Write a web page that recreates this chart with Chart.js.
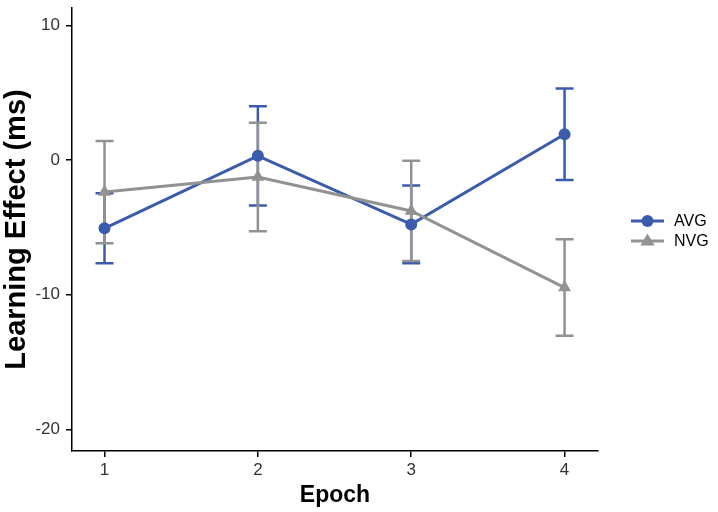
<!DOCTYPE html>
<html>
<head>
<meta charset="utf-8">
<script src="https://cdn.jsdelivr.net/npm/chart.js@4/dist/chart.umd.min.js"></script>
<style>
  body { margin: 0; background: #fff; }
  canvas { display: block; }
</style>
</head>
<body>
<canvas id="chart" width="718" height="512"></canvas>
<script>
const epochs = [1, 2, 3, 4];
const avgMean = [-5.06, 0.32, -4.77, 1.92];
const avgErr = [2.6, 3.68, 2.89, 3.4];
const nvgMean = [-2.37, -1.25, -3.77, -9.46];
const nvgErr = [3.8, 4.03, 3.72, 3.58];
const yTicks = [-20, -10, 0, 10];

const BLUE = '#3b5cad';
const GRAY = '#929292';
const FONT = "'Liberation Sans', Arial, sans-serif";

const toPoints = (means) => epochs.map((e, i) => ({ x: e, y: means[i] }));

// error bars drawn from the arrays through the chart scales
const errorBars = {
  id: 'errorBars',
  beforeDatasetsDraw(chart) {
    const { ctx, scales: { x, y } } = chart;
    const sets = [
      { means: avgMean, errs: avgErr, color: BLUE },
      { means: nvgMean, errs: nvgErr, color: GRAY },
    ];
    ctx.save();
    ctx.lineWidth = 2.5;
    sets.forEach((s) => {
      ctx.strokeStyle = s.color;
      epochs.forEach((e, i) => {
        const px = x.getPixelForValue(e);
        const top = y.getPixelForValue(s.means[i] + s.errs[i]);
        const bot = y.getPixelForValue(s.means[i] - s.errs[i]);
        ctx.beginPath();
        ctx.moveTo(px, top);
        ctx.lineTo(px, bot);
        ctx.moveTo(px - 9, top);
        ctx.lineTo(px + 9, top);
        ctx.moveTo(px - 9, bot);
        ctx.lineTo(px + 9, bot);
        ctx.stroke();
      });
    });
    ctx.restore();
  },
};

const drawMarker = (ctx, style, cx, cy, r) => {
  ctx.beginPath();
  if (style === 'triangle') {
    ctx.moveTo(cx, cy - r);
    ctx.lineTo(cx + r * 0.95, cy + r * 0.6);
    ctx.lineTo(cx - r * 0.95, cy + r * 0.6);
    ctx.closePath();
  } else {
    ctx.arc(cx, cy, r, 0, Math.PI * 2);
  }
  ctx.fill();
};

const sideLegend = {
  id: 'sideLegend',
  afterDraw(chart) {
    const { ctx } = chart;
    const rows = [221, 241];
    ctx.save();
    chart.data.datasets.forEach((ds, i) => {
      const cy = rows[i];
      ctx.strokeStyle = ds.borderColor;
      ctx.fillStyle = ds.borderColor;
      ctx.lineWidth = 3;
      ctx.beginPath();
      ctx.moveTo(631, cy);
      ctx.lineTo(664, cy);
      ctx.stroke();
      drawMarker(ctx, ds.pointStyle, 647.5, cy, ds.pointStyle === 'triangle' ? 7.5 : 6);
      ctx.fillStyle = '#000';
      ctx.font = '16px ' + FONT;
      ctx.textBaseline = 'middle';
      ctx.textAlign = 'left';
      ctx.fillText(ds.label, 674, cy + 1);
    });
    ctx.restore();
  },
};

new Chart(document.getElementById('chart'), {
  type: 'line',
  data: {
    datasets: [
      {
        label: 'AVG',
        data: toPoints(avgMean),
        borderColor: BLUE,
        backgroundColor: BLUE,
        borderWidth: 3,
        pointStyle: 'circle',
        pointRadius: 6,
        pointBorderWidth: 0,
        order: 1,
      },
      {
        label: 'NVG',
        data: toPoints(nvgMean),
        borderColor: GRAY,
        backgroundColor: GRAY,
        borderWidth: 3,
        pointStyle: 'triangle',
        pointRadius: 7.5,
        pointBorderWidth: 0,
        order: 0,
      },
    ],
  },
  options: {
    responsive: false,
    animation: false,
    layout: { padding: { top: 8, right: 120, left: 0, bottom: 0 } },
    plugins: {
      legend: { display: false },
      tooltip: { enabled: false },
    },
    scales: {
      x: {
        type: 'linear',
        min: 0.788,
        max: 4.218,
        afterBuildTicks: (s) => { s.ticks = epochs.map((v) => ({ value: v })); },
        afterFit: (s) => {
          s.height = 61;
          s.paddingLeft = 0;
          s.paddingRight = 0;
        },
        border: { display: true, color: '#000', width: 1.5 },
        grid: { drawOnChartArea: false, drawTicks: true, tickLength: 6, color: '#000', lineWidth: 1.5 },
        ticks: { color: '#333', font: { family: FONT, size: 17 }, padding: 3, maxRotation: 0 },
        title: {
          display: true,
          text: 'Epoch',
          color: '#000',
          font: { family: FONT, size: 23, weight: 'bold' },
          padding: { top: 0, bottom: 3 },
        },
      },
      y: {
        min: -21.6,
        max: 11.3,
        afterBuildTicks: (s) => { s.ticks = yTicks.map((v) => ({ value: v })); },
        afterFit: (s) => {
          s.width = 72;
          s.paddingTop = 0;
          s.paddingBottom = 0;
        },
        border: { display: true, color: '#000', width: 1.5 },
        grid: { drawOnChartArea: false, drawTicks: true, tickLength: 6, color: '#000', lineWidth: 1.5 },
        ticks: { color: '#333', font: { family: FONT, size: 17 }, padding: 6 },
        title: {
          display: true,
          text: 'Learning Effect (ms)',
          color: '#000',
          font: { family: FONT, size: 29, weight: 'bold' },
          padding: { top: 0, bottom: 0 },
        },
      },
    },
  },
  plugins: [errorBars, sideLegend],
});
</script>
</body>
</html>
